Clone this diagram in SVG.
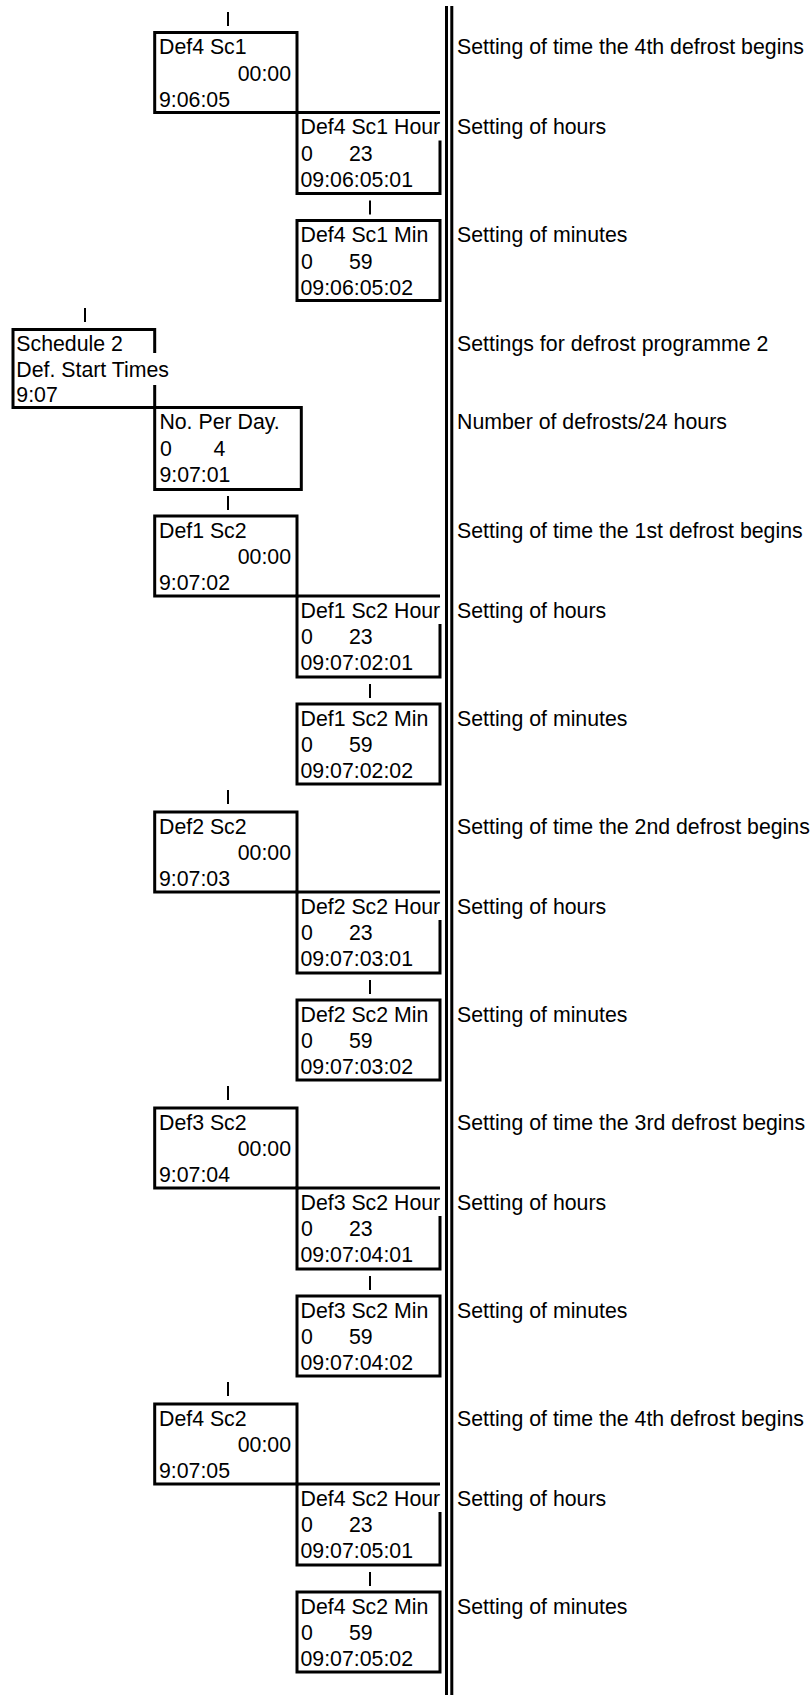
<svg xmlns="http://www.w3.org/2000/svg" width="811" height="1695" viewBox="0 0 811 1695">
<style>
text{font-family:"Liberation Sans",Arial,Helvetica,sans-serif;font-size:21.3px;fill:#000}
.e{text-anchor:end}
.b{fill:none;stroke:#000;stroke-width:3}
.t{stroke:#000;stroke-width:2}
.d{stroke:#000;stroke-width:3}
</style>
<rect width="811" height="1695" fill="#fff"/>
<g id="connectors">
<line class="t" x1="228" y1="12" x2="228" y2="26"/>
<line class="t" x1="370" y1="200.5" x2="370" y2="214.5"/>
<line class="t" x1="85" y1="308" x2="85" y2="322"/>
<line class="t" x1="228" y1="496" x2="228" y2="510"/>
<line class="t" x1="370" y1="684" x2="370" y2="698"/>
<line class="t" x1="228" y1="790" x2="228" y2="804"/>
<line class="t" x1="370" y1="980" x2="370" y2="994"/>
<line class="t" x1="228" y1="1086" x2="228" y2="1100"/>
<line class="t" x1="370" y1="1276" x2="370" y2="1290"/>
<line class="t" x1="228" y1="1382" x2="228" y2="1396"/>
<line class="t" x1="370" y1="1572" x2="370" y2="1586"/>
</g>
<g id="divider">
<line class="d" x1="446.5" y1="6" x2="446.5" y2="1695"/>
<line class="d" x1="451.8" y1="6" x2="451.8" y2="1695"/>
</g>

<g id="def4sc1">
<rect class="b" x="154.7" y="32.5" width="142.3" height="80"/>
<text x="159" y="54">Def4 Sc1</text>
<text class="e" x="291" y="80.5">00:00</text>
<text x="159" y="106.5">9:06:05</text>
<text x="457" y="54">Setting of time the 4th defrost begins</text>
</g>
<g id="def4sc1hour">
<path class="b" d="M440,140.5 V193.5 H297 V112.5 H440"/>
<text x="300.5" y="134">Def4 Sc1 Hour</text>
<text x="301" y="160.5">0</text><text x="349" y="160.5">23</text>
<text x="300.5" y="186.5">09:06:05:01</text>
<text x="457" y="134">Setting of hours</text>
</g>
<g id="def4sc1min">
<rect class="b" x="297" y="220.5" width="143" height="80"/>
<text x="300.5" y="242">Def4 Sc1 Min</text>
<text x="301" y="268.5">0</text><text x="349" y="268.5">59</text>
<text x="300.5" y="294.5">09:06:05:02</text>
<text x="457" y="242">Setting of minutes</text>
</g>

<g id="schedule2">
<path class="b" d="M154.7,353 V329.5 H13 V407.5 H154.7 V385"/>
<text x="16.3" y="350.5">Schedule 2</text>
<text x="16.3" y="376.5">Def. Start Times</text>
<text x="16.3" y="402">9:07</text>
<text x="457" y="350.5">Settings for defrost programme 2</text>
</g>
<g id="noperday">
<rect class="b" x="154.7" y="407.5" width="146.6" height="82"/>
<text x="159.4" y="429">No. Per Day.</text>
<text x="160" y="455.5">0</text><text x="213.5" y="455.5">4</text>
<text x="159.4" y="481.5">9:07:01</text>
<text x="457" y="429">Number of defrosts/24 hours</text>
</g>

<g id="def1sc2">
<rect class="b" x="154.7" y="516" width="142.3" height="80"/>
<text x="159" y="537.5">Def1 Sc2</text>
<text class="e" x="291" y="564">00:00</text>
<text x="159" y="590">9:07:02</text>
<text x="457" y="537.5">Setting of time the 1st defrost begins</text>
</g>
<g id="def1sc2hour">
<path class="b" d="M440,624 V677 H297 V596 H440"/>
<text x="300.5" y="617.5">Def1 Sc2 Hour</text>
<text x="301" y="644">0</text><text x="349" y="644">23</text>
<text x="300.5" y="670">09:07:02:01</text>
<text x="457" y="617.5">Setting of hours</text>
</g>
<g id="def1sc2min">
<rect class="b" x="297" y="704" width="143" height="80"/>
<text x="300.5" y="725.5">Def1 Sc2 Min</text>
<text x="301" y="752">0</text><text x="349" y="752">59</text>
<text x="300.5" y="778">09:07:02:02</text>
<text x="457" y="725.5">Setting of minutes</text>
</g>

<g id="def2sc2">
<rect class="b" x="154.7" y="812" width="142.3" height="80"/>
<text x="159" y="833.5">Def2 Sc2</text>
<text class="e" x="291" y="860">00:00</text>
<text x="159" y="886">9:07:03</text>
<text x="457" y="833.5">Setting of time the 2nd defrost begins</text>
</g>
<g id="def2sc2hour">
<path class="b" d="M440,920 V973 H297 V892 H440"/>
<text x="300.5" y="913.5">Def2 Sc2 Hour</text>
<text x="301" y="940">0</text><text x="349" y="940">23</text>
<text x="300.5" y="966">09:07:03:01</text>
<text x="457" y="913.5">Setting of hours</text>
</g>
<g id="def2sc2min">
<rect class="b" x="297" y="1000" width="143" height="80"/>
<text x="300.5" y="1021.5">Def2 Sc2 Min</text>
<text x="301" y="1048">0</text><text x="349" y="1048">59</text>
<text x="300.5" y="1074">09:07:03:02</text>
<text x="457" y="1021.5">Setting of minutes</text>
</g>

<g id="def3sc2">
<rect class="b" x="154.7" y="1108" width="142.3" height="80"/>
<text x="159" y="1129.5">Def3 Sc2</text>
<text class="e" x="291" y="1156">00:00</text>
<text x="159" y="1182">9:07:04</text>
<text x="457" y="1129.5">Setting of time the 3rd defrost begins</text>
</g>
<g id="def3sc2hour">
<path class="b" d="M440,1216 V1269 H297 V1188 H440"/>
<text x="300.5" y="1209.5">Def3 Sc2 Hour</text>
<text x="301" y="1236">0</text><text x="349" y="1236">23</text>
<text x="300.5" y="1262">09:07:04:01</text>
<text x="457" y="1209.5">Setting of hours</text>
</g>
<g id="def3sc2min">
<rect class="b" x="297" y="1296" width="143" height="80"/>
<text x="300.5" y="1317.5">Def3 Sc2 Min</text>
<text x="301" y="1344">0</text><text x="349" y="1344">59</text>
<text x="300.5" y="1370">09:07:04:02</text>
<text x="457" y="1317.5">Setting of minutes</text>
</g>

<g id="def4sc2">
<rect class="b" x="154.7" y="1404" width="142.3" height="80"/>
<text x="159" y="1425.5">Def4 Sc2</text>
<text class="e" x="291" y="1452">00:00</text>
<text x="159" y="1478">9:07:05</text>
<text x="457" y="1425.5">Setting of time the 4th defrost begins</text>
</g>
<g id="def4sc2hour">
<path class="b" d="M440,1512 V1565 H297 V1484 H440"/>
<text x="300.5" y="1505.5">Def4 Sc2 Hour</text>
<text x="301" y="1532">0</text><text x="349" y="1532">23</text>
<text x="300.5" y="1558">09:07:05:01</text>
<text x="457" y="1505.5">Setting of hours</text>
</g>
<g id="def4sc2min">
<rect class="b" x="297" y="1592" width="143" height="80"/>
<text x="300.5" y="1613.5">Def4 Sc2 Min</text>
<text x="301" y="1640">0</text><text x="349" y="1640">59</text>
<text x="300.5" y="1666">09:07:05:02</text>
<text x="457" y="1613.5">Setting of minutes</text>
</g>
</svg>
